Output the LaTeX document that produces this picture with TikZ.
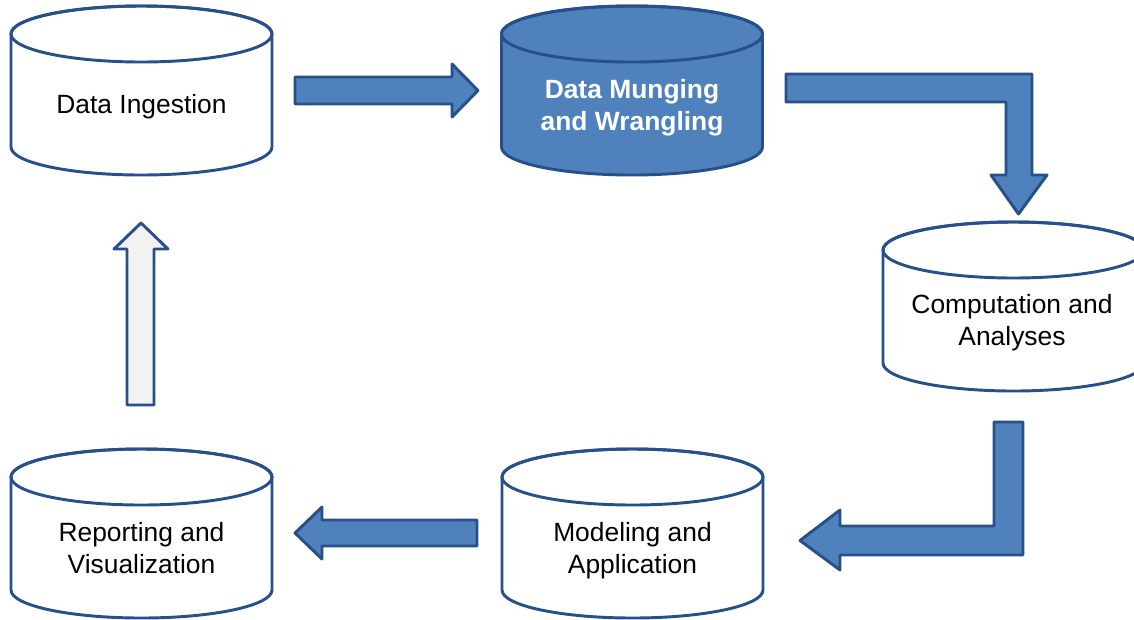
\documentclass[tikz,border=0pt]{standalone}
\usepackage{fontspec}
\setmainfont{Liberation Sans}
\definecolor{edge}{HTML}{26508A}
\definecolor{boxblue}{HTML}{4F81BD}
\definecolor{lightg}{HTML}{F2F2F2}
\newcommand\dbcyl[4]{%
  \filldraw[cylline, fill=#4] (#1-130.5,#2) -- (#1-130.5,#3)
    arc[start angle=180, end angle=0, x radius=130.5, y radius=28]
    -- (#1+130.5,#2)
    arc[start angle=0, end angle=-180, x radius=130.5, y radius=28] -- cycle;
  \draw[cylline] (#1,#2) ellipse[x radius=130.5, y radius=28];
}
\tikzset{
  cylline/.style={draw=edge, line width=2.2pt},
  blockarrow/.style={draw=edge, line width=2.2pt, line join=round, fill=boxblue},
  lbl/.style={anchor=north, inner sep=0pt, align=center,
    font={\fontsize{19.8}{24}\selectfont}, text=black},
  lblw/.style={lbl, font={\fontsize{19.8}{24}\selectfont\bfseries}, text=white}
}
\begin{document}
\begin{tikzpicture}[x=0.75pt, y=-0.75pt]
\useasboundingbox (0,0) rectangle (1134,619);
\clip (0,0) rectangle (1134,619);
% cylinders
\dbcyl{141.5}{34}{147}{white}
\dbcyl{632}{34}{147}{boxblue}
\dbcyl{1013.5}{250}{363}{white}
\dbcyl{632.5}{477}{590}{white}
\dbcyl{141.5}{477}{590}{white}
% labels
\node[lbl]  (ing) at (141.5,90.6)  {\strut Data Ingestion};
\node[lblw] (mun) at (632,75.6)    {\strut Data Munging\\\strut and Wrangling};
\node[lbl]  (com) at (1012,290.6)  {\strut Computation and\\\strut Analyses};
\node[lbl]  (mod) at (632.5,518.6) {\strut Modeling and\\\strut Application};
\node[lbl]  (rep) at (141.5,518.6) {\strut Reporting and\\\strut Visualization};
% block arrows
\filldraw[blockarrow] (295,77) -- (452,77) -- (452,64) -- (478,90.5) -- (452,117) -- (452,104) -- (295,104) -- cycle;
\filldraw[blockarrow] (786,74) -- (1032,74) -- (1032,175) -- (1047,175) -- (1018.5,214) -- (991,175) -- (1006,175) -- (1006,102) -- (786,102) -- cycle;
\filldraw[blockarrow] (1023,422) -- (1023,555) -- (840,555) -- (840,570) -- (800,540.5) -- (840,510) -- (840,526) -- (994,526) -- (994,422) -- cycle;
\filldraw[blockarrow] (477,520) -- (477,546) -- (322,546) -- (322,559) -- (295,533) -- (322,507) -- (322,520) -- cycle;
\filldraw[blockarrow, fill=lightg] (127,405) -- (154,405) -- (154,249) -- (168,249) -- (141,223) -- (114,249) -- (127,249) -- cycle;
\end{tikzpicture}
\end{document}
